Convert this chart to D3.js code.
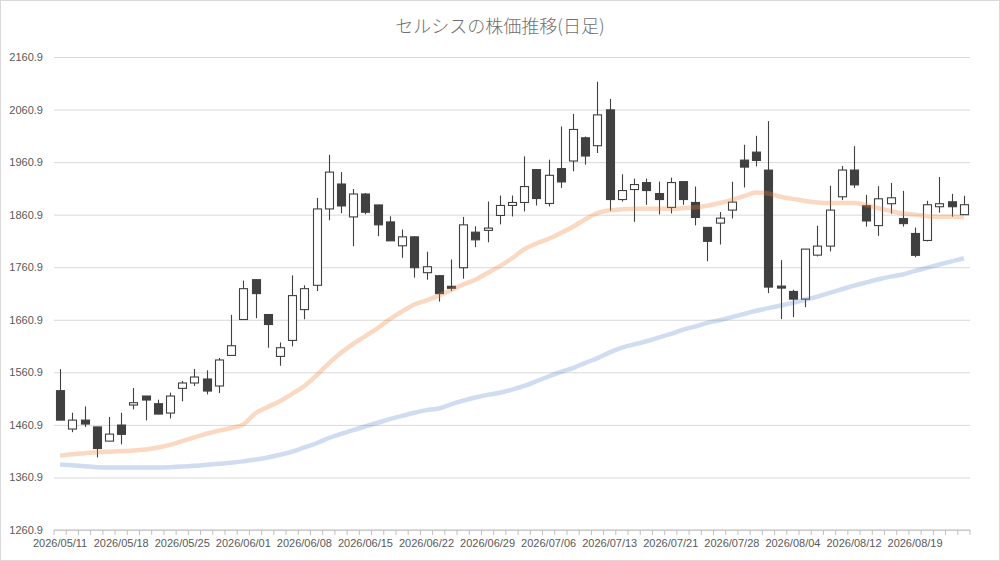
<!DOCTYPE html>
<html>
<head>
<meta charset="utf-8">
<script src="https://cdn.jsdelivr.net/npm/d3@7"></script>
<style>
  body { margin: 0; background: #fff; }
  svg { display: block; font-family: "Noto Sans", "Noto Sans CJK JP", sans-serif; }
</style>
</head>
<body>
<div id="chart"></div>
<script>
// trading days shown on the category axis
const dates = [
  "2026/05/11","2026/05/12","2026/05/13","2026/05/14","2026/05/15",
  "2026/05/18","2026/05/19","2026/05/20","2026/05/21","2026/05/22",
  "2026/05/25","2026/05/26","2026/05/27","2026/05/28","2026/05/29",
  "2026/06/01","2026/06/02","2026/06/03","2026/06/04","2026/06/05",
  "2026/06/08","2026/06/09","2026/06/10","2026/06/11","2026/06/12",
  "2026/06/15","2026/06/16","2026/06/17","2026/06/18","2026/06/19",
  "2026/06/22","2026/06/23","2026/06/24","2026/06/25","2026/06/26",
  "2026/06/29","2026/06/30","2026/07/01","2026/07/02","2026/07/03",
  "2026/07/06","2026/07/07","2026/07/08","2026/07/09","2026/07/10",
  "2026/07/13","2026/07/14","2026/07/15","2026/07/16","2026/07/17",
  "2026/07/21","2026/07/22","2026/07/23","2026/07/24","2026/07/27",
  "2026/07/28","2026/07/29","2026/07/30","2026/07/31","2026/08/03",
  "2026/08/04","2026/08/05","2026/08/06","2026/08/07","2026/08/10",
  "2026/08/12","2026/08/13","2026/08/14","2026/08/17","2026/08/18",
  "2026/08/19","2026/08/20","2026/08/21","2026/08/24","2026/08/25"
];

const open = [1526,1453,1470,1457,1430,1460.6,1498.7,1515.8,1501.2,1483.4,
  1530.4,1540.6,1548.2,1534.9,1593.1,1661.4,1737.2,1670.9,1591.2,1621.6,
  1680.3,1726.5,1871.8,1919.2,1856.6,1900.2,1879.4,1847.1,1801.7,1818.7,
  1750.5,1744.8,1724.6,1760,1827.6,1831,1859.4,1878.4,1884.1,1946.6,
  1882.2,1948.5,1963,2007.2,1992.1,2060.3,1889.7,1908.7,1922,1901.1,
  1874.6,1923.8,1884.1,1836.7,1844.8,1869.6,1964.7,1979.9,1945.7,1725,
  1714.8,1700.2,1783.9,1801.1,1894.9,1945.8,1877.9,1840.1,1881.7,1853.4,
  1825.1,1811.8,1876,1885.4,1860.9];
const high = [1567,1484,1496,1457,1476,1484,1531,1516,1508.8,1522.2,
  1544.4,1567.2,1564.7,1588.2,1670.2,1735.3,1737.2,1671,1617.8,1745.4,
  1726.5,1892.7,1974.8,1941.9,1909.7,1902,1879.4,1857.9,1832.6,1820,
  1790.3,1745,1775.7,1856.6,1838.9,1886,1897.3,1897.3,1971.8,1946.6,
  1965.5,2028.7,2052.7,2009.7,2113.9,2081.1,1937.7,1929.5,1929.5,1923.8,
  1931.4,1924,1914.4,1836.7,1865.8,1923.5,1993.9,2011,2038.9,1774.4,
  1718,1795.4,1839.8,1915.9,1953.4,1991.1,1898.6,1915,1921.3,1906.2,
  1836.4,1887.3,1932.6,1900.5,1896.8];
const low = [1470,1447,1457,1399,1430,1423.8,1490.4,1469.5,1481,1473.3,
  1505.7,1534.9,1519,1521.5,1593,1661,1663.9,1607.7,1573.5,1610.2,
  1661.9,1715.7,1850.3,1863.6,1801,1861.7,1820,1811,1778.9,1741,
  1737.2,1695.5,1715.7,1739.1,1799.1,1808.3,1842.4,1857.5,1867,1878.4,
  1876.5,1911.9,1943.4,1956.1,1978.2,1868.3,1885.9,1847.4,1879.6,1861.3,
  1863.2,1879.6,1840.5,1772.3,1804.2,1853.7,1912.7,1952.7,1711.6,1662.2,
  1666,1685,1781.4,1790.9,1888.6,1911.8,1838.2,1820.6,1862.8,1838.2,
  1779.8,1810,1864.7,1857.1,1860.9];
const close = [1470,1470,1462.5,1416,1443.4,1442.8,1503.1,1508.2,1481.5,1515.8,
  1540.6,1552,1525.3,1584.4,1611.5,1720.1,1710.7,1651.9,1607.7,1706.9,
  1720.1,1871.8,1941.9,1877.5,1900.2,1865.5,1841.5,1811.1,1818.7,1760,
  1761.8,1710.7,1720.8,1841.5,1813,1835.4,1878.4,1884.1,1914.4,1891.6,
  1935.8,1923.2,2023,1972.5,2050.8,1889.7,1906.8,1918.2,1906.8,1889.7,
  1922,1889.7,1855.6,1810.2,1854.3,1884.8,1951.4,1964.1,1723.1,1721.2,
  1700.2,1795.4,1801.1,1869.6,1945.8,1917.5,1848.9,1891.1,1893,1843.9,
  1783.5,1879.8,1881.7,1876,1879.8];

// moving averages
const maShort = [1402.5,1405,1407,1409,1410,1411,1412,1414,1418,1423,
  1430,1437,1444,1450,1455,1462,1483,1495,1506,1520,
  1535,1555,1578,1598,1615,1630,1645,1662,1677,1690,
  1698,1707,1717,1728,1737,1750,1763,1778,1795,1806,
  1815,1826,1838,1852,1864,1869,1871,1872,1872,1872,
  1872,1873,1875,1878,1883,1889,1896,1903,1901,1895,
  1891,1887,1884,1883,1883,1883,1879,1873,1868,1863,
  1861,1858,1857,1857,1856];
const maLong = [1385.4,1384,1382,1380.5,1380,1380,1380,1380,1380,1380.5,
  1381.5,1383,1385,1387,1389,1391.5,1395,1399,1404,1410,
  1418,1426,1436,1444,1451,1458,1465,1472,1478,1484,
  1489,1492,1500,1507,1513,1518,1522,1528,1535,1544,
  1553,1562,1569,1579,1588,1599,1608,1614,1620,1627,
  1634,1642,1648,1655,1660,1666,1672,1678,1683,1688,
  1693,1699,1705,1712,1719,1726,1732,1738,1743,1747,
  1754,1760,1766,1772,1778];

const yTicks = [1260.9,1360.9,1460.9,1560.9,1660.9,1760.9,1860.9,1960.9,2060.9,2160.9];

const width = 1000;
const height = 561;
const margin = { top: 57, right: 30, bottom: 31, left: 54 };

const svg = d3.select("div#chart").append("svg")
    .attr("width", width)
    .attr("height", height)

svg.append("rect")
    .attr("x", 0.5).attr("y", 0.5)
    .attr("width", width - 1).attr("height", height - 1)
    .attr("fill", "#fff")
    .attr("stroke", "#d9d9d9")

svg.append("text")
    .attr("x", 500).attr("y", 33)
    .attr("text-anchor", "middle")
    .attr("font-family", "'Noto Sans CJK JP', sans-serif")
    .attr("font-size", 18)
    .attr("font-weight", 300)
    .attr("fill", "#6f6f6f")
    .text("セルシスの株価推移(日足)")

const x = d3.scaleBand().domain(d3.range(dates.length)).range([margin.left, width - margin.right]).padding(0)
const y = d3.scaleLinear().domain([1260.9, 2160.9]).range([height - margin.bottom, margin.top])

// gridlines + y labels
const yAxis = d3.axisLeft(y).tickValues(yTicks).tickFormat(d3.format(".1f"))
    .tickSize(-(width - margin.left - margin.right)).tickPadding(11)
const yAxisGroup = svg.append("g")
    .attr("transform", `translate(${margin.left},0)`)
    .call(yAxis)
yAxisGroup.select(".domain").remove()
yAxisGroup.selectAll("line").attr("stroke", "#d9d9d9")
yAxisGroup.selectAll("text").attr("fill", "#595959").attr("font-size", 11)

// x axis: line, ticks at category boundaries, labels every 5 days
const xAxisGroup = svg.append("g")
    .attr("transform", `translate(0,${height - margin.bottom})`)
xAxisGroup.append("line")
    .attr("x1", margin.left).attr("x2", width - margin.right)
    .attr("stroke", "#bfbfbf")
xAxisGroup.selectAll(".tk")
    .data(d3.range(dates.length + 1))
    .join("line")
    .attr("class", "tk")
    .attr("x1", d => margin.left + d * x.step())
    .attr("x2", d => margin.left + d * x.step())
    .attr("y1", 0).attr("y2", 5)
    .attr("stroke", "#bfbfbf")
const xAxis = d3.axisBottom(x)
    .tickValues(d3.range(0, dates.length, 5))
    .tickFormat(i => dates[i])
    .tickSize(0).tickPadding(9)
const xLabels = svg.append("g")
    .attr("transform", `translate(0,${height - margin.bottom})`)
    .call(xAxis)
xLabels.select(".domain").remove()
xLabels.selectAll("text").attr("fill", "#595959").attr("font-size", 11)

// candles
const cx = i => x(i) + x.bandwidth() / 2
const bodyW = 8
const candles = svg.append("g").selectAll("g")
    .data(d3.range(dates.length))
    .join("g")
candles.append("line")
    .attr("x1", i => Math.round(cx(i)) + 0.5).attr("x2", i => Math.round(cx(i)) + 0.5)
    .attr("y1", i => y(high[i])).attr("y2", i => y(low[i]))
    .attr("stroke", "#404040").attr("stroke-width", 1.1)
candles.append("rect")
    .attr("x", i => Math.round(cx(i) - bodyW / 2) + 0.5)
    .attr("y", i => y(Math.max(open[i], close[i])))
    .attr("width", bodyW)
    .attr("height", i => Math.max(1, y(Math.min(open[i], close[i])) - y(Math.max(open[i], close[i]))))
    .attr("fill", i => close[i] < open[i] ? "#404040" : "#fff")
    .attr("stroke", "#404040").attr("stroke-width", 1.1)

// moving average lines on top, semi transparent
const line = d3.line().x((d, i) => cx(i)).y(d => y(d)).curve(d3.curveMonotoneX)
svg.append("path")
    .datum(maShort)
    .attr("d", line)
    .attr("fill", "none")
    .attr("stroke", "#ED7D31").attr("stroke-opacity", 0.3)
    .attr("stroke-width", 4.5).attr("stroke-linejoin", "round")
svg.append("path")
    .datum(maLong)
    .attr("d", line)
    .attr("fill", "none")
    .attr("stroke", "#4472C4").attr("stroke-opacity", 0.25)
    .attr("stroke-width", 4.5).attr("stroke-linejoin", "round")
</script>
</body>
</html>
